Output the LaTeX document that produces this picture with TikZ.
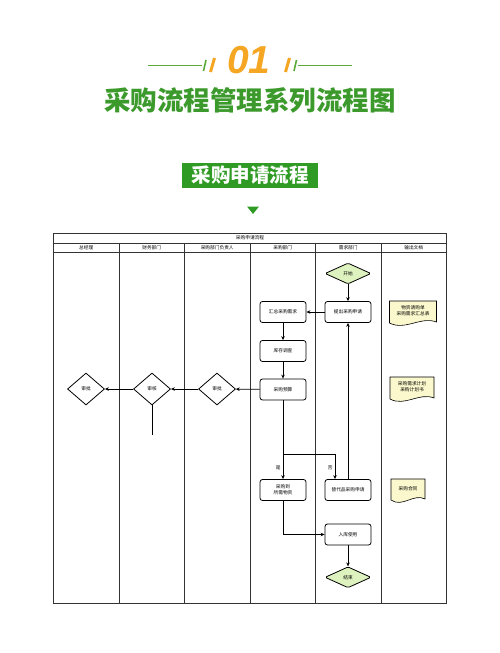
\documentclass[tikz,border=0pt]{standalone}
\usepackage{fontspec}
\setmainfont{Noto Sans CJK SC}
\newfontfamily\numfont{Liberation Sans}
\usetikzlibrary{shapes.geometric,arrows.meta}
\definecolor{tgreen}{HTML}{3C9A2C}
\definecolor{bgreen}{HTML}{2F9B24}
\definecolor{lgreen}{HTML}{5AAA3A}
\definecolor{orng}{HTML}{F5A623}
\definecolor{dfill}{HTML}{FAF8CC}
\definecolor{sfill}{HTML}{DDF2BE}
\newcommand\mydoc[6]{%
  \path[draw,fill=dfill,line width=0.6pt] (#2-#4/2,#3-#5/2) -- (#2+#4/2,#3-#5/2) -- (#2+#4/2,#3+#5/2-3)
    .. controls (#2+#4/6,#3+#5/2-9) and (#2-#4/6,#3+#5/2+6) .. (#2-#4/2,#3+#5/2-2) -- cycle;
  \node[txt,align=center] (#1) at (#2,#3-2) {#6};}
\begin{document}
\begin{tikzpicture}[x=1pt,y=-1pt,
  txt/.style={font=\fontsize{4.7}{5.7}\selectfont, inner sep=0pt},
  box/.style={draw, rounded corners=2.5pt, fill=white, minimum width=46pt, minimum height=21pt, inner sep=1pt, font=\fontsize{4.7}{5.7}\selectfont, align=center, line width=0.8pt},
  term/.style={draw, diamond, fill=sfill, aspect=2.2, minimum width=46pt, minimum height=21pt, inner sep=0pt, rounded corners=1.5pt, font=\fontsize{4.7}{5.7}\selectfont, line width=0.8pt},
  chk/.style={draw, diamond, fill=white, aspect=1.15, minimum width=37pt, minimum height=32pt, inner sep=0pt, font=\fontsize{4.7}{5.7}\selectfont, line width=0.8pt},
  arr/.style={draw, line width=0.8pt, -{Stealth[length=4pt,width=3.5pt]}},
  ln/.style={draw, line width=0.8pt},
  grid/.style={draw, line width=0.9pt, black!80}]
\fill[white] (0,0) rectangle (500,653);
% ---- header decoration
\draw[lgreen, line width=1pt] (148,65) -- (202,65);
\draw[lgreen, line width=1pt] (298,65) -- (352,65);
\draw[lgreen, line width=1.6pt] (203.5,71) -- (206,60);
\draw[orng, line width=3pt] (210.5,72) -- (214.5,58);
\draw[orng, line width=3pt] (285.5,72) -- (289.5,58);
\draw[lgreen, line width=1.6pt] (294,71) -- (296.5,60);
\node[font=\numfont\fontsize{39}{39}\selectfont\bfseries\itshape, text=orng, inner sep=0pt] (num) at (249,60) {01};
\node[font=\fontsize{26.5}{28}\selectfont\bfseries, text=tgreen, inner sep=0pt] (title) at (250,100) {采购流程管理系列流程图};
\node[fill=bgreen, minimum width=136.6pt, minimum height=24.4pt, inner sep=0pt, text=white, font=\fontsize{19.5}{20}\selectfont\bfseries] (banner) at (250,175.5) {采购申请流程};
\fill[bgreen] (247,206.5) -- (259,206.5) -- (253,214) -- cycle;
% ---- table
\draw[grid] (53.5,233) rectangle (446.5,603);
\draw[grid] (53.5,243) -- (446.5,243);
\draw[grid] (53.5,252) -- (446.5,252);
\foreach \x in {119,184.5,250,315.5,381} \draw[grid] (\x,243) -- (\x,603);
\node[txt] (tabt) at (250,238.2) {采购申请流程};
\node[txt] (h1) at (86.2,247.6) {总经理};
\node[txt] (h2) at (151.7,247.6) {财务部门};
\node[txt] (h3) at (217.2,247.6) {采购部门负责人};
\node[txt] (h4) at (282.7,247.6) {采购部门};
\node[txt] (h5) at (348.2,247.6) {需求部门};
\node[txt] (h6) at (413.7,247.6) {输出文档};
% ---- nodes
\node[term] (start) at (348,273.5) {开始};
\node[box] (apply) at (348,312) {提出采购申请};
\node[box] (summ) at (283,312) {汇总采购需求};
\node[box] (stock) at (283,351) {库存调查};
\node[box] (budget) at (283,389.5) {采购预算};
\node[chk] (appr1) at (217,389) {审批};
\node[chk] (audit) at (152,389) {审核};
\node[chk] (appr2) at (86,389) {审批};
\node[box] (buy) at (283,490) {采购到\\所需物资};
\node[box] (alt) at (348,490) {替代品采购申请};
\node[box] (store) at (348,534.5) {入库使用};
\node[term] (end) at (348,577.3) {结束};
\mydoc{d1}{413}{313}{47}{24}{物资请购单\\采购需求汇总表}
\mydoc{d2}{412}{389}{44}{24}{采购需求计划\\采购计划书}
\mydoc{d3}{408}{490.5}{34}{23}{采购合同}
% ---- connectors
\draw[arr] (start) -- (apply);
\draw[arr] (apply) -- (summ);
\draw[arr] (summ) -- (stock);
\draw[arr] (stock) -- (budget);
\draw[arr] (budget) -- (appr1);
\draw[arr] (appr1) -- (audit);
\draw[arr] (audit) -- (appr2);
\coordinate (auditend) at (152,435);
\draw[ln] (audit.south) -- (auditend);
\coordinate (split) at (283,454);
\coordinate (splitR) at (335,454);
\draw[ln] (budget.south) -- (split);
\draw[arr] (split) -- node[txt, pos=0.55, left=2pt] (yes) {是} (buy.north);
\draw[ln] (split) -- (splitR);
\draw[arr] (splitR) -- node[txt, pos=0.55, left=2pt] (no) {否} (splitR |- alt.north);
\draw[arr] (alt.north) -- (apply.south);
\draw[arr] (buy.south) |- (store.west);
\draw[arr] (store) -- (end);
\end{tikzpicture}
\end{document}
